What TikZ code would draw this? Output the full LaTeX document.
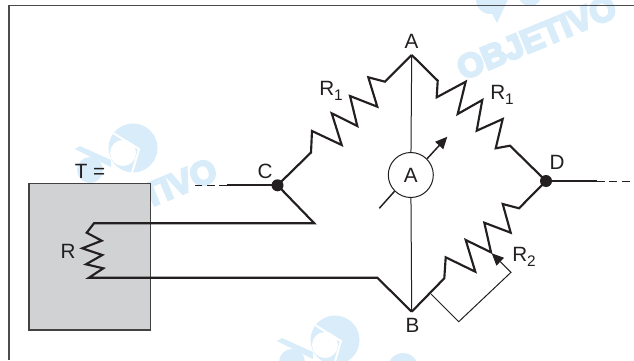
\documentclass[tikz,border=0pt]{standalone}
\usepackage{fontspec}
\setmainfont{Liberation Sans}
\newfontfamily\markfont[BoldFeatures={FakeBold=7}]{Liberation Sans}
\usetikzlibrary{arrows.meta}
\pgfdeclarelayer{bg}
\pgfsetlayers{bg,main}
\definecolor{markblue}{HTML}{D8ECFA}
\definecolor{boxgray}{HTML}{D0D2D4}
\definecolor{inkblack}{HTML}{231F20}
\tikzset{
  wire/.style={line width=1.6pt, inkblack, line join=miter},
  thinwire/.style={line width=0.75pt, inkblack},
  lab/.style={font=\fontsize{15.5}{17}\selectfont, text=inkblack, inner sep=0pt},
  wmark/.style={font=\markfont\bfseries\fontsize{25}{27}\selectfont, text=markblue, inner sep=0pt, rotate=22.5},
  tiparrow/.style={-{Triangle[length=9pt,width=8pt]}},
  dashwire/.style={line width=0.75pt, inkblack, dash pattern=on 6pt off 3.5pt},
}
\newcommand{\rsub}[1]{R\raisebox{-3.5pt}{\fontsize{11.5}{12}\selectfont #1}}
\newcommand{\logomark}[2]{
  \begin{scope}[shift={(#1,#2)}]
    \fill[markblue] (0,0) circle (24.5);
    \fill[markblue] (-43,22) circle (13);
    \fill[markblue] (-58,1)--(-53,-2)--(-22,12)--(-22,19)--cycle;
    \draw[white, line width=1.5pt] (-20,-15)--(6,1)--(-1,25);
    \fill[white] (-10,5) circle (13);
  \end{scope}
}
\begin{document}
\begin{tikzpicture}[x=0.75pt,y=-0.75pt]
  \useasboundingbox (0,0) rectangle (634,360);

  \begin{pgfonlayer}{bg}
    \clip (0,0) rectangle (634,360);
    \node[wmark] (mark1) at (536.5,37.5) {OBJETIVO};
    \node[wmark] (mark2) at (179,183) {TIVO};
    \fill[markblue] (403,368) circle (15);
    \fill[markblue] (490,0) circle (14);
    \fill[markblue] (482,-5)--(510,-5)--(497,23)--cycle;
    \fill[markblue] (530,-6) circle (12);
    \logomark{133}{148}
    \logomark{335}{340}
  \end{pgfonlayer}

  \draw[line width=1pt, black!70] (9,360)--(9,5.5)--(634,5.5);
  \draw[line width=1pt, inkblack!85, fill=boxgray] (29,183.5) rectangle (150.5,330);

  \coordinate (A) at (411.7,55);
  \coordinate (B) at (411.7,311.7);
  \coordinate (C) at (277.5,185.3);
  \coordinate (D) at (546,181);
  \coordinate (Cend) at (195,185.3);
  \coordinate (Dend) at (634,181);
  \node[draw=inkblack, line width=0.75pt, circle, minimum size=33.75pt, inner sep=0pt,
    font=\fontsize{15.5}{17}\selectfont, text=inkblack] (meter) at (410.8,175) {A};

  \draw[thinwire] (A)--(meter);
  \draw[thinwire] (meter)--(B);

  % bridge arms
  \draw[wire] (C)--(311,152.5)--(312,131)--(341.7,145)--(331.7,113.3)--(357.3,126)--(350,96)--(377.3,106.7)--(368.3,77.3)--(385,81.7)--(A);
  \draw[wire] (A)--(437.7,80.7)--(436.7,97.3)--(465.7,81.7)--(457.7,114)--(482.3,100)--(476.7,130.7)--(502.7,119)--(495.7,148.3)--(510,145.7)--(D);
  \draw[wire] (D)--(519,208.3)--(502.7,204)--(510.7,232.7)--(484.3,222.7)--(491,252.3)--(465.7,240)--(475.3,271.7)--(445.7,257.3)--(444.3,278.3)--(B);

  % sensor leads
  \draw[wire] (C)--(314.3,223.3)--(94,223.3)--(86.7,232.7)--(101.7,240.7)--(82.3,248.3)--(102.3,255)--(86,264.3)--(103.3,268.3)--(89,277.7)--(377.3,277.7)--(B);

  \draw[wire] (C)--(227.3,185.3);
  \draw[dashwire] (227.3,185.3)--(Cend);
  \draw[wire] (D)--(596.7,181);
  \draw[dashwire] (596.7,181)--(Dend);

  \fill[inkblack] (C) circle (6);
  \fill[inkblack] (D) circle (6);

  % meter needle
  \draw[wire, line width=1.1pt] (379.3,208.3)--(meter.225);
  \draw[wire, line width=1.1pt, tiparrow] (meter.45)--(447.3,136.7);

  % slider
  \draw[thinwire, tiparrow] (431,294)--(458.7,321.7)--(511,272.3)--(491.7,253.3);

  \node[lab] (lA) at (411.5,41) {A};
  \node[lab] (lB) at (412.5,325) {B};
  \node[lab] (lC) at (265,171) {C};
  \node[lab] (lD) at (557,162) {D};
  \node[lab] (lT) at (90,171) {T =};
  \node[lab] (lR) at (68,251) {R};
  \node[lab] (lRa) at (331,91) {\rsub{1}};
  \node[lab] (lRb) at (502,95) {\rsub{1}};
  \node[lab] (lRc) at (524,257) {\rsub{2}};
\end{tikzpicture}
\end{document}
